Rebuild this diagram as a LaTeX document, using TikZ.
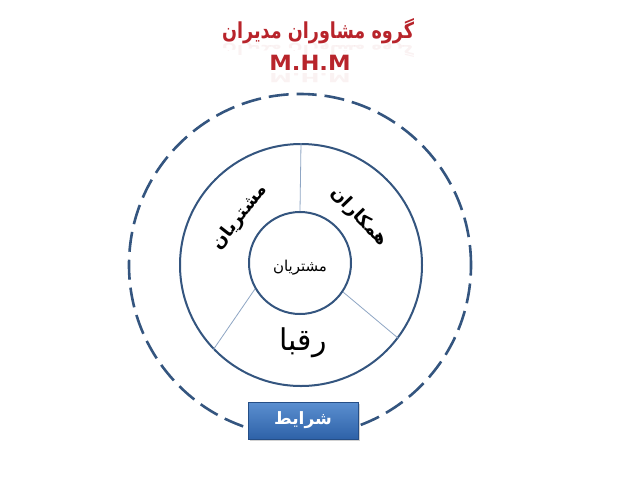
\documentclass[tikz,border=0pt]{standalone}
\usepackage{fontspec}
\TeXXeTstate=1
\newfontfamily\arabicfont[Script=Arabic]{DejaVu Sans}
\newfontfamily\latinbold{DejaVu Sans}
\definecolor{ringblue}{HTML}{34557F}
\definecolor{thinline}{HTML}{8FA6C4}
\definecolor{titlered}{HTML}{B8242B}
\definecolor{boxtop}{HTML}{5B8FD0}
\definecolor{boxbot}{HTML}{2E62A8}
\usetikzlibrary{shadows}
\begin{document}
\begin{tikzpicture}[x=1pt,y=-1pt,
  ring/.style={circle,draw=ringblue,line width=2pt,inner sep=0pt},
  divider/.style={draw=thinline,line width=0.8pt},
  lbl/.style={font=\arabicfont,text=black,inner sep=0pt},
  titletext/.style={text=titlered,inner sep=0pt}]
\useasboundingbox (0,0) rectangle (619,480);
\fill[white] (0,0) rectangle (619,480);
% faint title reflections
\node[titletext,opacity=0.06,xscale=0.8,yscale=-0.6] at (318,50) {\arabicfont\bfseries\fontsize{22}{26}\selectfont\beginR گروه مشاوران مدیران\endR};
\node[titletext,opacity=0.06,xscale=1.08,yscale=-0.6] at (310,78) {\latinbold\bfseries\fontsize{21}{24}\selectfont M.H.M};
% title
\node[titletext,xscale=0.8] (title) at (318,31) {\arabicfont\bfseries\fontsize{22}{26}\selectfont\beginR گروه مشاوران مدیران\endR};
\node[titletext,xscale=1.08] (mhm) at (310,63) {\latinbold\bfseries\fontsize{21}{24}\selectfont M.H.M};
% circles
\node[ring,minimum size=342pt,dash pattern=on 20pt off 8pt,line width=2.6pt] (outer) at (300,265) {};
\node[ring,minimum size=242pt,fill=white] (mid) at (301,265) {};
\node[ring,minimum size=102pt] (inner) at (300,263) {};
% dividers
\draw[divider] (inner.90) -- (mid.90);
\draw[divider] (inner.210) -- (mid.224);
\draw[divider] (inner.326) -- (mid.323);
% labels
\node[lbl] (core) at (300,268) {\fontsize{15}{18}\selectfont\beginR مشتریان\endR};
\node[lbl,rotate=52] (cust) at (240,217) {\bfseries\fontsize{18}{22}\selectfont\beginR مشتریان\endR};
\node[lbl,rotate=-46] (coll) at (359,217) {\bfseries\fontsize{18}{22}\selectfont\beginR همکاران\endR};
\node[lbl] (comp) at (303,343) {\fontsize{30}{36}\selectfont\beginR رقبا\endR};
% conditions box
\node[minimum width=110pt,minimum height=37pt,inner sep=0pt,
  top color=boxtop,bottom color=boxbot,draw=boxbot!80!black,line width=0.5pt,
  drop shadow={opacity=0.35,shadow xshift=1.5pt,shadow yshift=-1.5pt},
  text=white] (cond) at (303,420.5) {\arabicfont\bfseries\fontsize{17}{20}\selectfont\beginR شرایط\endR};
\end{tikzpicture}
\end{document}
